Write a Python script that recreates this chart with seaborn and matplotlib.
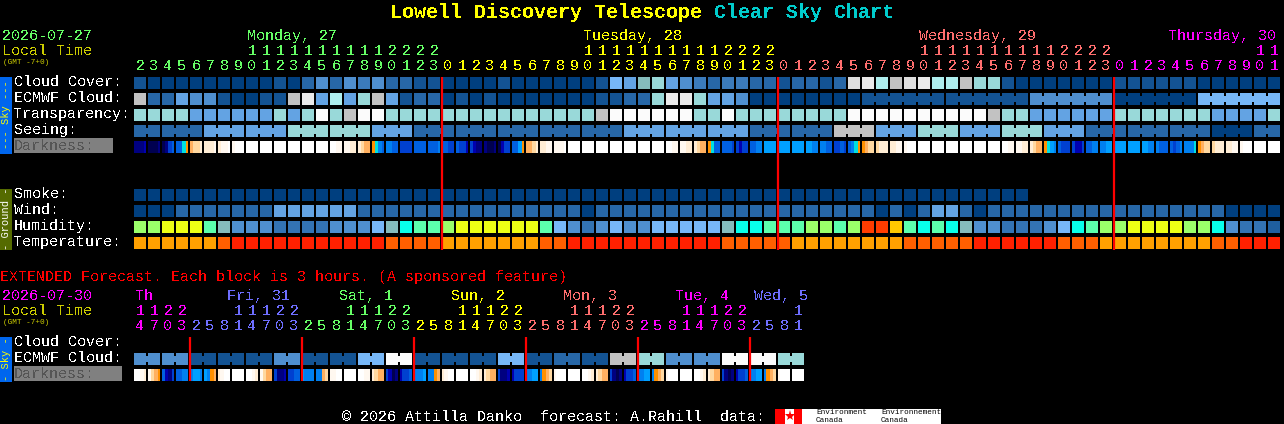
import numpy as np
import matplotlib
matplotlib.use('Agg')
import matplotlib.pyplot as plt
from matplotlib.colors import ListedColormap
from matplotlib.patches import Rectangle
import seaborn as sns

# =============================================================================
# DATA
# =============================================================================
# sky rows are indexes into sky_colors
sky_colors = ['#003F7F', '#135393', '#2767A7', '#3B7BBB', '#4F8FCF', '#63A3E3', '#77B7F7',
              '#85BCBC', '#99D9D9', '#AEEEEE', '#C2C2C2', '#DFDFDF', '#EAEAEA', '#FBFBFB']
humidity_colors = ['#3373B3', '#4F8FCF', '#77B7F7', '#85BCBC', '#08FFEA', '#5CFFAC',
                   '#9BFF6A', '#EDFF15', '#FFC800', '#FF3C00', '#1F5F9F']
temperature_colors = ['#FFA000', '#FF5F00', '#FF2000']
darkness_colors = ['#000050', '#000080', '#0000B0', '#0040D0', '#0060E0', '#0080F0', '#00A0FF',
                   '#00E0E0', '#FF9000', '#FFB060', '#FFD8A0', '#FFEDD5', '#FFF8F0', '#FFFFFF']

cloud_cover = [1, 0, 0, 0, 0, 0, 0, 0, 0, 0,
               1, 0, 2, 4, 2, 4, 3, 4, 2, 2,
               1, 1, 0, 0, 0, 0, 1, 0, 0, 0,
               0, 0, 0, 1, 6, 5, 7, 8, 5, 4,
               3, 2, 3, 3, 2, 2, 1, 2, 2, 1,
               2, 11, 12, 9, 10, 11, 12, 9, 9, 10,
               8, 8, 1, 0, 0, 0, 0, 0, 0, 0,
               1, 1, 1, 1, 1, 1, 0, 0, 0, 0,
               0, 0]
ecmwf_cloud = [10, 2, 2, 5, 4, 4, 1, 0, 0, 1,
               1, 10, 12, 5, 9, 5, 8, 10, 5, 1,
               2, 2, 0, 1, 0, 1, 0, 0, 0, 0,
               0, 0, 0, 1, 1, 2, 2, 8, 12, 12,
               8, 5, 5, 4, 0, 0, 0, 0, 0, 0,
               0, 0, 1, 1, 1, 1, 1, 1, 1, 1,
               1, 1, 1, 1, 4, 4, 4, 4, 4, 4,
               0, 0, 0, 0, 0, 0, 6, 6, 6, 6,
               6, 6]
transparency = [8, 8, 8, 8, 5, 5, 5, 5, 5, 5,
                8, 5, 8, 13, 8, 10, 13, 13, 8, 8,
                8, 8, 8, 8, 8, 8, 8, 8, 8, 8,
                8, 8, 8, 10, 13, 13, 13, 13, 13, 13,
                8, 8, 13, 8, 8, 8, 8, 8, 8, 8,
                8, 13, 13, 13, 13, 13, 13, 13, 13, 13,
                13, 10, 8, 8, 5, 5, 5, 5, 5, 5,
                8, 8, 8, 8, 8, 8, 8, 5, 5, 5,
                5, 8]
seeing = [2, 2, 2, 2, 2, 5, 5, 5, 5, 5,
          5, 8, 8, 8, 8, 8, 8, 5, 5, 5,
          2, 2, 2, 2, 2, 2, 2, 2, 2, 2,
          2, 2, 2, 2, 2, 5, 5, 5, 5, 5,
          5, 5, 5, 5, 2, 2, 2, 2, 2, 2,
          10, 10, 10, 5, 5, 5, 8, 8, 8, 5,
          5, 5, 8, 8, 8, 5, 5, 5, 2, 2,
          2, 2, 2, 2, 2, 2, 2, 0, 0, 0,
          2, 2]
# darkness: four samples per block, hex index into darkness_colors
darkness = ['1112', '0001', '0134', '4478', '9aab', 'bbbc', 'bccd', 'cddd', 'dddd', 'dddd',
            'dddd', 'dddd', 'dddd', 'dddd', 'ddcc', 'ccbb', 'ba99', '8754', '5544', '3333',
            '4444', '4445', '4433', '4332', '3211', '1001', '0233', '4468', '99ab', 'bbcc',
            'cccd', 'dddd', 'dddd', 'dddd', 'dddd', 'dddd', 'dddd', 'dddd', 'ddcc', 'ccbb',
            'ba99', '8744', '4443', '3233', '4455', '6666', '6666', '6666', '6655', '5544',
            '3343', '4578', '89aa', 'abbb', 'bbcc', 'cddd', 'dddd', 'dddd', 'dddd', 'dddd',
            'dddd', 'dddd', 'ddcc', 'ccbb', 'ba99', '8765', '4333', '3223', '4455', '5566',
            '6666', '6666', '6655', '5444', '4345', '5557', '89aa', 'abbb', 'bbcc', 'cddd',
            'dddd', 'dddd']

smoke = [0] * 64
wind = [0, 0, 0, 2, 2, 2, 2, 2, 2, 2,
        5, 5, 5, 5, 5, 5, 2, 2, 2, 2,
        2, 2, 2, 2, 2, 2, 2, 2, 2, 2,
        2, 2, 0, 2, 2, 2, 2, 2, 2, 2,
        2, 2, 2, 2, 2, 2, 2, 2, 2, 2,
        2, 2, 2, 0, 2, 0, 2, 5, 5, 2,
        0, 2, 2, 2, 2, 2, 2, 2, 2, 2,
        2, 2, 2, 2, 2, 2, 2, 2, 0, 0,
        0, 0]
humidity = [6, 6, 7, 7, 7, 5, 3, 1, 1, 1,
            0, 0, 0, 0, 1, 1, 1, 2, 3, 4,
            5, 5, 6, 7, 7, 7, 7, 7, 7, 5,
            2, 1, 0, 1, 2, 1, 1, 2, 2, 2,
            2, 2, 3, 4, 4, 5, 5, 5, 6, 6,
            5, 6, 9, 9, 8, 5, 4, 5, 4, 3,
            1, 1, 0, 0, 0, 1, 2, 4, 5, 6,
            6, 7, 7, 7, 7, 6, 6, 4, 1, 0,
            0, 10]
temperature = [0, 0, 0, 0, 0, 0, 1, 2, 2, 2,
               2, 2, 2, 2, 2, 2, 2, 2, 1, 1,
               1, 1, 0, 0, 0, 0, 0, 0, 0, 1,
               1, 2, 2, 2, 2, 2, 2, 2, 2, 2,
               2, 2, 1, 1, 1, 1, 1, 0, 0, 0,
               0, 0, 0, 0, 0, 1, 1, 1, 1, 1,
               2, 2, 2, 2, 2, 2, 1, 1, 1, 0,
               0, 0, 0, 0, 0, 0, 0, 1, 1, 2,
               2, 2]

ext_ecmwf = [4, 4, 4, 4, 1, 1, 1, 1, 1, 1, 4, 4, 1, 1, 1, 1, 6, 6, 13, 13, 1, 1, 1, 1,
             1, 1, 6, 6, 1, 1, 2, 2, 1, 1, 10, 10, 8, 8, 4, 4, 4, 4, 13, 13, 13, 13, 8, 8]
ext_darkness = ['ddcb', 'ca98', '4213', '4455', '5665', '6589', 'bcdd', 'dddd',
                'ddcb', 'ca99', '3112', '3344', '6555', '559a', 'ccdd', 'dddd',
                'ddcc', 'ba99', '3201', '2334', '5556', '5589', 'bcdd', 'dddd',
                'ddcb', 'ba99', '3112', '2333', '5566', '589a', 'cddd', 'dddd',
                'ddcb', 'ba99', '3101', '2334', '5566', '589a', 'cddd', 'dddd',
                'ddcb', 'ba99', '3101', '2334', '5566', '589a', 'cddd', 'dddd']

# block groups joined by a small bridge
seeing_groups = [2] + [3] * 26 + [2]
ecmwf_groups = [1] * 52 + [6] * 5
ext_ecmwf_groups = [2] * 24

hour_units = list('2345678901234567890123012345678901234567890123012345678901234567890123012345678901')
hour_tens = list(' ' * 8 + '11111111112222' + ' ' * 10 + '11111111112222' + ' ' * 10 + '11111111112222' + ' ' * 10 + '11')
ext_tens = list('1122' + '   11122' * 5 + '   1')
ext_units = list('4703' + '25814703' * 5 + '2581')

GREEN, YELLOW, SALMON, MAGENTA, BLUE = '#66FF66', '#FFFF00', '#FF6E6E', '#FF00FF', '#6E6EFF'
main_day_cols = [(0, 22, GREEN), (22, 46, YELLOW), (46, 70, SALMON), (70, 82, MAGENTA)]
ext_day_cols = [(0, 4, MAGENTA), (4, 12, BLUE), (12, 20, GREEN), (20, 28, YELLOW),
                (28, 36, SALMON), (36, 44, MAGENTA), (44, 48, BLUE)]
main_midnights = [22, 46, 70]
ext_midnights = [4, 12, 20, 28, 36, 44]

# =============================================================================
# LAYOUT HELPERS
# =============================================================================
W, H = 1284, 424
plt.rcParams['text.antialiased'] = False
sns.set_style('dark')
plt.rcParams['font.family'] = ['Liberation Mono', 'DejaVu Sans Mono']
fig = plt.figure(figsize=(W / 100, H / 100), dpi=100, facecolor='black')


def px_axes(x, y, w, h, zorder=1):
    ax = fig.add_axes([x / W, 1 - (y + h) / H, w / W, h / H], zorder=zorder)
    ax.set_facecolor('none')
    ax.set_axis_off()
    return ax


def block_row(values, top, colors, groups=None):
    # one row of 12px blocks on a 14px pitch
    cmap = ListedColormap(colors)
    ax = px_axes(133, top - 1, 14 * len(values), 14)
    sns.heatmap(np.array([values], dtype=float), ax=ax, cmap=cmap, vmin=-0.5, vmax=len(colors) - 0.5,
                cbar=False, linewidths=1.44, linecolor='black', xticklabels=False, yticklabels=False)
    ax.set_axis_off()
    if groups:
        bridge = np.full(len(values) - 1, np.nan)
        start = 0
        for size in groups:
            bridge[start:start + size - 1] = values[start:start + size - 1]
            start += size
        ax2 = px_axes(140, top + 3, 14 * (len(values) - 1), 6, zorder=2)
        sns.heatmap(np.array([bridge]), ax=ax2, cmap=cmap, vmin=-0.5, vmax=len(colors) - 0.5,
                    cbar=False, linewidths=0, xticklabels=False, yticklabels=False)
        ax2.set_axis_off()


def gradient_row(samples, top):
    cmap = ListedColormap(darkness_colors)
    grid = np.array([[int(c, 16) for block in samples for c in block]], dtype=float)
    ax = px_axes(133, top, 14 * len(samples), 12)
    sns.heatmap(grid, ax=ax, cmap=cmap, vmin=-0.5, vmax=13.5, cbar=False, linewidths=0,
                xticklabels=False, yticklabels=False)
    ax.vlines(np.arange(0, grid.shape[1] + 1, 4), 0, 1, color='black', linewidth=1.44)
    ax.set_axis_off()


def hour_header(tens, units, day_cols, top, n):
    ax = px_axes(134, top, 14 * n, 30)
    ax.set_xlim(0, n)
    ax.set_ylim(30, 0)
    for start, stop, color in day_cols:
        for i in range(start, stop):
            ax.text(i + 0.43, 23, units[i], color=color, fontsize=10.8, ha='center', va='center')
            if tens[i] != ' ':
                ax.text(i + 0.43, 8, tens[i], color=color, fontsize=10.8, ha='center', va='center')


def midnight_lines(cols, top, height, n):
    ax = px_axes(134, top, 14 * n, height, zorder=5)
    ax.set_xlim(0, n)
    ax.set_ylim(1, 0)
    ax.vlines(cols, 0, 1, color='#FF0000', linewidth=1.6)


# =============================================================================
# HEATMAP ROWS
# =============================================================================
block_row(cloud_cover, 77, sky_colors)
block_row(ecmwf_cloud, 93, sky_colors, ecmwf_groups)
block_row(transparency, 109, sky_colors)
block_row(seeing, 125, sky_colors, seeing_groups)
gradient_row(darkness, 141)

block_row(smoke, 189, sky_colors)
block_row(wind, 205, sky_colors)
block_row(humidity, 221, humidity_colors)
block_row(temperature, 237, temperature_colors)

block_row(ext_ecmwf, 353, sky_colors, ext_ecmwf_groups)
gradient_row(ext_darkness, 369)

midnight_lines(main_midnights, 77, 173, 82)
midnight_lines(ext_midnights, 337, 44, 48)
hour_header(hour_tens, hour_units, main_day_cols, 43, 82)
hour_header(ext_tens, ext_units, ext_day_cols, 303, 48)

# =============================================================================
# PAGE TEXT
# =============================================================================
page = px_axes(0, 0, W, H, zorder=3)
page.set_xlim(0, W)
page.set_ylim(H, 0)


def label(x, y, s, color='white', size=10.8, **kw):
    page.text(x, y, s, color=color, fontsize=size, va='center', **kw)


label(390, 12, 'Lowell Discovery Telescope', YELLOW, 14.4, fontweight='bold')
label(714, 12, 'Clear Sky Chart', '#00CCCC', 14.4, fontweight='bold')

label(2, 36, '2026-07-27', GREEN)
label(2, 51, 'Local Time', '#CCCC00')
label(3, 62, '(GMT -7+0)', '#CCCC00', 5.6, antialiased=True)
label(247, 36, 'Monday, 27', GREEN)
label(583, 36, 'Tuesday, 28', YELLOW)
label(919, 36, 'Wednesday, 29', SALMON)
label(1168, 36, 'Thursday, 30', MAGENTA)

for y, s in [(82, 'Cloud Cover:'), (98, 'ECMWF Cloud:'), (114, 'Transparency:'), (130, 'Seeing:'),
             (194, 'Smoke:'), (210, 'Wind:'), (226, 'Humidity:'), (242, 'Temperature:'),
             (342, 'Cloud Cover:'), (358, 'ECMWF Cloud:')]:
    label(14, y, s)

page.add_patch(Rectangle((14, 138), 99, 15, color='#808080', lw=0))
label(14, 146, 'Darkness:', '#555555')
page.add_patch(Rectangle((14, 366), 108, 15, color='#808080', lw=0))
label(14, 374, 'Darkness:', '#555555')

page.add_patch(Rectangle((0, 77), 12, 77, color='#0066EE', lw=0))
page.text(6, 115, '--- Sky ---', color=YELLOW, fontsize=7.5, rotation=90, ha='center', va='center', antialiased=True)
page.add_patch(Rectangle((0, 189), 12, 61, color='#556B00', lw=0))
page.text(6, 219, '- Ground -', color='white', fontsize=7.5, rotation=90, ha='center', va='center', antialiased=True)
page.add_patch(Rectangle((0, 337), 12, 45, color='#0066EE', lw=0))
page.text(6, 359, '- Sky -', color=YELLOW, fontsize=7.5, rotation=90, ha='center', va='center', antialiased=True)

label(0, 277, 'EXTENDED Forecast. Each block is 3 hours. (A sponsored feature)', '#FF0000')
label(2, 296, '2026-07-30', MAGENTA)
label(2, 311, 'Local Time', '#CCCC00')
label(3, 322, '(GMT -7+0)', '#CCCC00', 5.6, antialiased=True)
label(135, 296, 'Th', MAGENTA)
label(227, 296, 'Fri, 31', BLUE)
label(339, 296, 'Sat, 1', GREEN)
label(451, 296, 'Sun, 2', YELLOW)
label(563, 296, 'Mon, 3', SALMON)
label(675, 296, 'Tue, 4', MAGENTA)
label(754, 296, 'Wed, 5', BLUE)

label(342, 417, '\u00a9 2026 Attilla Danko  forecast: A.Rahill  data:')
page.add_patch(Rectangle((775, 409), 166, 15, color='white', lw=0))
page.add_patch(Rectangle((775, 409), 10, 15, color='#FF0000', lw=0))
page.add_patch(Rectangle((794, 409), 8, 15, color='#FF0000', lw=0))
page.plot([789.5], [416], marker='*', color='#FF0000', markersize=8, markeredgewidth=0)
for x, a in [(816, 'Environment'), (881, 'Environnement')]:
    page.text(x, 413, a, color='black', fontsize=5.5, va='center', antialiased=True)
    page.text(x, 420, 'Canada', color='black', fontsize=5.5, va='center', antialiased=True)

fig.savefig('out.png', dpi=100, facecolor='black')
